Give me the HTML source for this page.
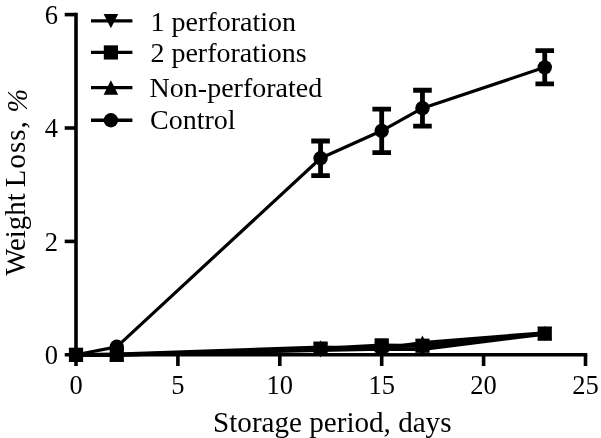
<!DOCTYPE html><html><head><meta charset="utf-8"><title>Weight loss chart</title><style>html,body{margin:0;padding:0;background:#fff}svg{display:block}text{font-family:"Liberation Serif",serif;fill:#000}</style></head><body>
<svg width="601" height="438" viewBox="0 0 601 438">
<rect width="601" height="438" fill="#fff"/>
<g stroke="#000" stroke-width="3.6" fill="none" stroke-linecap="butt">
<path d="M76.0 12.80V366.00"/>
<path d="M64.7 354.8H587.30"/>
<path d="M64.7 241.40H76.0"/>
<path d="M64.7 128.00H76.0"/>
<path d="M64.7 14.60H76.0"/>
<path d="M177.90 354.8V366.00"/>
<path d="M279.80 354.8V366.00"/>
<path d="M381.70 354.8V366.00"/>
<path d="M483.60 354.8V366.00"/>
<path d="M585.50 354.8V366.00"/>
</g>
<text x="58.0" y="364.00" font-size="26.5" text-anchor="end">0</text>
<text x="58.0" y="250.60" font-size="26.5" text-anchor="end">2</text>
<text x="58.0" y="137.20" font-size="26.5" text-anchor="end">4</text>
<text x="58.0" y="23.80" font-size="26.5" text-anchor="end">6</text>
<text x="76.00" y="394" font-size="26.5" text-anchor="middle">0</text>
<text x="177.90" y="394" font-size="26.5" text-anchor="middle">5</text>
<text x="279.80" y="394" font-size="26.5" text-anchor="middle">10</text>
<text x="381.70" y="394" font-size="26.5" text-anchor="middle">15</text>
<text x="483.60" y="394" font-size="26.5" text-anchor="middle">20</text>
<text x="585.50" y="394" font-size="26.5" text-anchor="middle">25</text>
<text x="332.3" y="432.2" font-size="29.1" text-anchor="middle">Storage period, days</text>
<text transform="translate(24.9,275.8) rotate(-90)" font-size="28.8">Weight</text>
<text transform="translate(24.9,187.2) rotate(-90)" font-size="28.8" letter-spacing="1.1">Loss,</text>
<text transform="translate(26.5,112.6) rotate(-90) scale(0.97,1)" font-size="29.4" font-style="italic">%</text>
<polyline points="76.00,354.80 116.76,354.80 320.56,350.26 381.70,348.85 422.46,349.13 544.74,333.82" fill="none" stroke="#000" stroke-width="3.7" stroke-linejoin="round"/>
<path d="M68.70 347.90H83.30L76.00 362.10Z"/>
<path d="M109.46 347.90H124.06L116.76 362.10Z"/>
<path d="M313.26 343.36H327.86L320.56 357.56Z"/>
<path d="M374.40 341.95H389.00L381.70 356.15Z"/>
<path d="M415.16 342.23H429.76L422.46 356.43Z"/>
<path d="M537.44 326.92H552.04L544.74 341.12Z"/>
<polyline points="76.00,354.80 116.76,354.23 320.56,347.43 381.70,348.56 422.46,342.89 544.74,332.97" fill="none" stroke="#000" stroke-width="3.7" stroke-linejoin="round"/>
<path d="M68.70 362.10H83.30L76.00 347.50Z"/>
<path d="M109.46 361.53H124.06L116.76 346.93Z"/>
<path d="M313.26 354.73H327.86L320.56 340.13Z"/>
<path d="M374.40 355.86H389.00L381.70 341.26Z"/>
<path d="M415.16 350.19H429.76L422.46 335.59Z"/>
<path d="M537.44 340.27H552.04L544.74 325.67Z"/>
<polyline points="76.00,354.80 116.76,354.80 320.56,348.62 381.70,345.39 422.46,345.73 544.74,333.59" fill="none" stroke="#000" stroke-width="3.7" stroke-linejoin="round"/>
<rect x="68.90" y="347.70" width="14.2" height="14.2"/>
<rect x="109.66" y="347.70" width="14.2" height="14.2"/>
<rect x="313.46" y="341.52" width="14.2" height="14.2"/>
<rect x="374.60" y="338.29" width="14.2" height="14.2"/>
<rect x="415.36" y="338.63" width="14.2" height="14.2"/>
<rect x="537.64" y="326.49" width="14.2" height="14.2"/>
<polyline points="76.00,354.80 116.76,346.81 320.56,158.28 381.70,130.83 422.46,108.21 544.74,67.33" fill="none" stroke="#000" stroke-width="3.2" stroke-linejoin="round"/>
<path d="M320.56 140.98V175.57M311.26 140.98H329.86M311.26 175.57H329.86" stroke="#000" stroke-width="4.8" fill="none"/>
<path d="M381.70 109.06V152.61M372.40 109.06H391.00M372.40 152.61H391.00" stroke="#000" stroke-width="4.8" fill="none"/>
<path d="M422.46 90.24V126.19M413.16 90.24H431.76M413.16 126.19H431.76" stroke="#000" stroke-width="4.8" fill="none"/>
<path d="M544.74 50.72V83.94M535.44 50.72H554.04M535.44 83.94H554.04" stroke="#000" stroke-width="4.8" fill="none"/>
<circle cx="76.00" cy="354.80" r="7.2"/>
<circle cx="116.76" cy="346.81" r="7.2"/>
<circle cx="320.56" cy="158.28" r="7.2"/>
<circle cx="381.70" cy="130.83" r="7.2"/>
<circle cx="422.46" cy="108.21" r="7.2"/>
<circle cx="544.74" cy="67.33" r="7.2"/>
<path d="M91 20.9H132.4" stroke="#000" stroke-width="3.3"/>
<path d="M103.60 14.00H118.20L110.90 28.20Z"/>
<text x="150.6" y="30.6" font-size="28">1 perforation</text>
<path d="M91 52.45H132.4" stroke="#000" stroke-width="3.3"/>
<rect x="103.80" y="45.35" width="14.2" height="14.2"/>
<text x="150.4" y="61.8" font-size="28">2 perforations</text>
<path d="M91 87.55H132.4" stroke="#000" stroke-width="3.3"/>
<path d="M103.60 94.85H118.20L110.90 80.25Z"/>
<text x="149.6" y="96.8" font-size="28">Non-perforated</text>
<path d="M91 120.25H132.4" stroke="#000" stroke-width="3.3"/>
<circle cx="110.90" cy="120.25" r="7.2"/>
<text x="150.0" y="129.2" font-size="28">Control</text>
</svg></body></html>
